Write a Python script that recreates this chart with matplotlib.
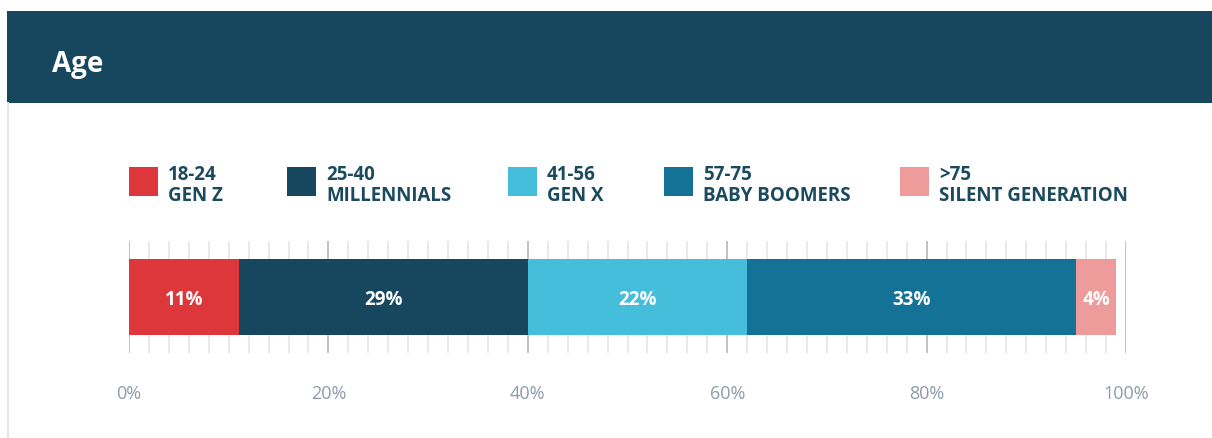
import matplotlib.pyplot as plt
from matplotlib.patches import Rectangle

plt.rcParams['font.family'] = ['Open Sans', 'DejaVu Sans']

ages = ['18-24', '25-40', '41-56', '57-75', '>75']
gens = ['GEN Z', 'MILLENNIALS', 'GEN X', 'BABY BOOMERS', 'SILENT GENERATION']
shares = [11, 29, 22, 33, 4]
colors = ['#DD363B', '#17475E', '#45BEDC', '#137295', '#EE9B9C']
ticks = [0, 20, 40, 60, 80, 100]
tick_labels = ['0%', '20%', '40%', '60%', '80%', '100%']

W, H = 1212, 439
fig = plt.figure(figsize=(W / 100, H / 100), dpi=100)
dark = '#17475E'

# header band and left border
fig.patches.append(Rectangle((7 / W, 1 - 104 / H), 1, 92 / H, transform=fig.transFigure,
                             facecolor=dark, edgecolor='none'))
fig.add_artist(plt.Line2D([7.5 / W, 7.5 / W], [0, 1 - 104 / H], transform=fig.transFigure,
                          color='#E6E6E6', lw=1.5))
fig.text(52 / W, 1 - 61 / H, 'Age', color='white', fontsize=20, fontweight='bold',
         va='center_baseline', ha='left')

# legend
leg_x = [129, 287, 508, 664, 900]
for x, a, g, c in zip(leg_x, ages, gens, colors):
    fig.patches.append(Rectangle((x / W, 1 - 197 / H), 29 / W, 29 / H,
                                 transform=fig.transFigure, facecolor=c, edgecolor='none'))
    fig.text((x + 39) / W, 1 - 172 / H, a, color='#1B4A5F', fontsize=13.5,
             fontweight='bold', va='center_baseline', ha='left')
    fig.text((x + 39) / W, 1 - 194 / H, g, color='#1B4A5F', fontsize=13.5,
             fontweight='bold', va='center_baseline', ha='left')

# bar
ax = fig.add_axes([129 / W, 1 - 354 / H, (1126 - 129) / W, 112 / H])
left = 0
for s, c in zip(shares, colors):
    ax.barh(0, s, left=left, height=76 / 112, color=c, edgecolor='none', zorder=3)
    ax.text(left + s / 2, 0, f'{s}%', color='white', fontsize=13.5, fontweight='bold',
            ha='center', va='center_baseline', zorder=4)
    left += s

ax.set_xlim(0, 100)
ax.set_ylim(-0.5, 0.5)
ax.set_xticks(ticks)
ax.set_xticklabels(tick_labels)
ax.set_xticks(range(0, 101, 2), minor=True)
ax.set_yticks([])
ax.tick_params(axis='x', which='both', length=0, pad=22, labelsize=13, labelcolor='#8D9BAA')
ax.grid(which='minor', axis='x', color='#E2E5EA', lw=1.2, zorder=0)
ax.grid(which='major', axis='x', color='#BFC2C6', lw=1.4, zorder=1)
for sp in ax.spines.values():
    sp.set_visible(False)

fig.savefig('out.png', dpi=100)
